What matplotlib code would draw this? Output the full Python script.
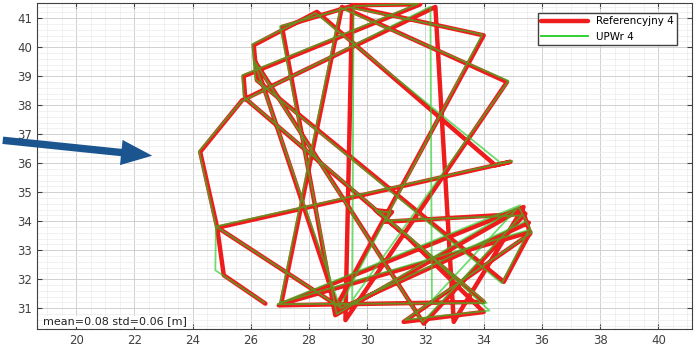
import matplotlib
matplotlib.use('Agg')
import matplotlib.pyplot as plt
from matplotlib.ticker import MultipleLocator

# Reference trajectory (red) - vertices [m]
ref_x = [26.50, 25.07, 24.84, 24.26, 25.70, 32.34, 32.97, 35.37, 26.96, 34.00,
         25.81, 25.75, 31.82, 29.48, 29.25, 34.80, 29.13, 27.04, 35.60, 34.69,
         26.21, 26.10, 28.27, 34.40, 34.92, 24.86, 28.96, 34.00, 29.42, 27.07,
         28.90, 35.32, 35.60, 31.25, 34.00, 31.37, 30.28, 30.85, 30.56, 35.43,
         31.94, 26.15, 29.00, 35.55]
ref_y = [31.16, 32.14, 33.80, 36.39, 38.17, 41.39, 30.53, 34.49, 31.10, 31.22,
         38.23, 39.00, 41.48, 41.45, 30.59, 38.80, 41.39, 31.14, 33.63, 31.91,
         38.86, 40.07, 41.22, 35.93, 36.05, 33.78, 31.10, 40.41, 41.41, 40.70,
         30.76, 34.44, 33.57, 30.53, 30.87, 33.46, 34.38, 34.32, 33.98, 34.26,
         30.47, 39.50, 30.95, 33.95]

# UPWr trajectory (green) - close to the reference with small deviations
upw_x = [26.45, 24.78, 24.80, 24.22, 25.66, 32.17, 32.22, 35.25, 26.92, 34.10,
         25.76, 25.70, 31.75, 29.53, 29.48, 34.85, 29.08, 27.00, 35.55, 34.62,
         26.15, 26.05, 28.22, 34.60, 34.98, 24.80, 29.05, 33.95, 29.38, 27.00,
         28.95, 35.20, 35.65, 31.30, 34.20, 31.40, 30.30, 30.80, 30.60, 35.30,
         31.90, 26.10, 29.08, 35.45]
upw_y = [31.20, 32.31, 33.82, 36.42, 38.12, 41.40, 31.27, 34.55, 31.14, 31.18,
         38.28, 39.03, 41.50, 41.42, 31.27, 38.84, 41.36, 31.18, 33.70, 31.86,
         38.90, 40.10, 41.18, 36.00, 36.08, 33.82, 31.05, 40.44, 41.38, 40.72,
         30.80, 34.50, 33.62, 30.60, 30.92, 33.50, 34.36, 34.30, 34.02, 34.20,
         30.52, 39.55, 31.00, 34.00]

x_ticks = list(range(20, 41, 2))
y_ticks = list(range(31, 42))
stats_text = 'mean=0.08 std=0.06 [m]'

fig = plt.figure(figsize=(6.96, 3.52), dpi=100)
ax = fig.add_axes([0.053, 0.065, 0.941, 0.926])

ax.plot(ref_x, ref_y, color='#ee1c1c', lw=3.2, solid_joinstyle='round',
        solid_capstyle='round', label='Referencyjny 4', zorder=3)
ax.plot(upw_x, upw_y, color='#22cc22', lw=1.3, alpha=0.65,
        label='UPWr 4', zorder=4)

ax.set_xlim(18.65, 41.15)
ax.set_ylim(30.28, 41.52)
ax.set_xticks(x_ticks)
ax.set_yticks(y_ticks)
ax.xaxis.set_minor_locator(MultipleLocator(0.5))
ax.yaxis.set_minor_locator(MultipleLocator(0.2))
ax.grid(which='major', color='#d0d0d0', lw=0.7)
ax.grid(which='minor', color='#ebebeb', lw=0.5)
ax.set_axisbelow(True)
ax.tick_params(which='both', direction='in', top=True, right=True,
               labelsize=8.5, labelcolor='#404040', color='#404040')
ax.tick_params(which='minor', length=0)
for s in ax.spines.values():
    s.set_color('#404040')
    s.set_linewidth(0.8)

leg = ax.legend(loc='upper right', fontsize=7.5, frameon=True, fancybox=False,
                edgecolor='#404040', framealpha=1, borderpad=0.3,
                handlelength=4.5, bbox_to_anchor=(0.985, 0.985))
leg.get_lines()[1].set_alpha(1)

ax.text(0.01, 0.008, stats_text, transform=ax.transAxes, fontsize=8,
        color='#222222', va='bottom', ha='left',
        bbox=dict(facecolor='white', edgecolor='none', pad=0.5))

# blue arrow pointing at the trajectory
ax.annotate('', xy=(155 / 696, 1 - 156 / 352), xytext=(0.0, 1 - 140 / 352),
            xycoords='figure fraction', textcoords='figure fraction',
            arrowprops=dict(arrowstyle='simple,head_width=1.3,head_length=1.6,tail_width=0.38',
                            mutation_scale=14, color='#1a5590', lw=0))

fig.savefig('out.png', dpi=100)
